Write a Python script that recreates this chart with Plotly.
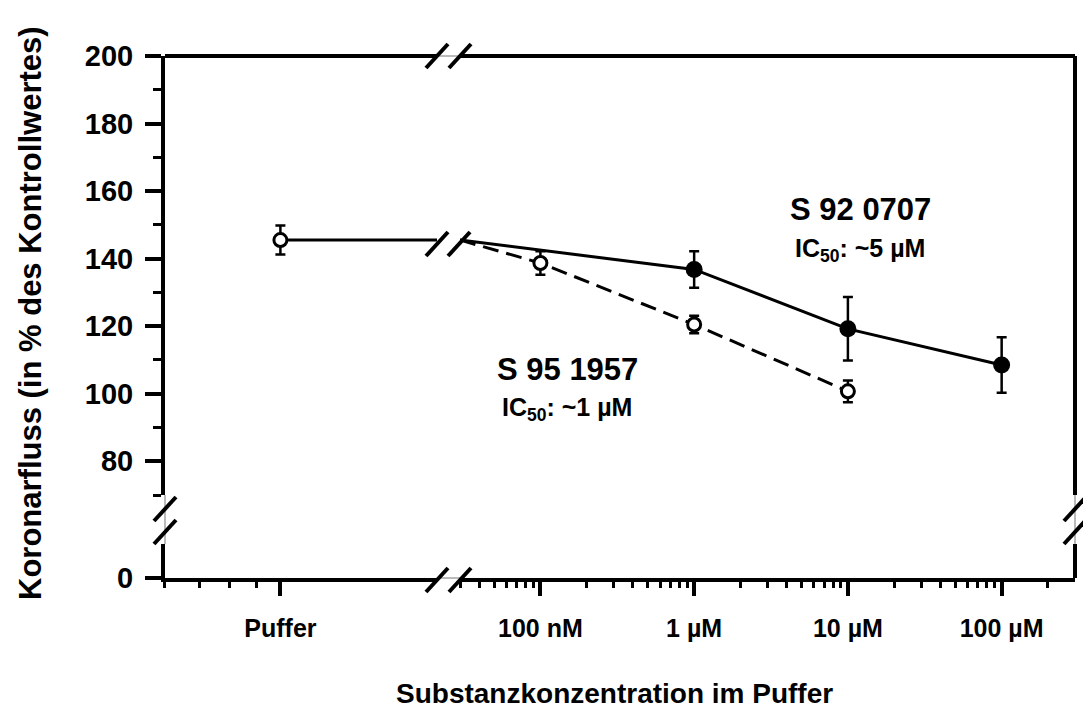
import math
import plotly.graph_objects as go

# --- data -------------------------------------------------------------
puffer_label = "Puffer"
puffer_pos = 1e-9            # position of the buffer control on its own log segment
puffer_mean = 145.5
puffer_sem = 4.3

conc_tickvals = [1e-7, 1e-6, 1e-5, 1e-4]
conc_ticktext = ["100 nM", "1 µM", "10 µM", "100 µM"]

s951957_conc = [1e-7, 1e-6, 1e-5]
s951957_mean = [138.7, 120.5, 100.7]
s951957_sem = [3.5, 2.6, 3.2]

s920707_conc = [1e-6, 1e-5, 1e-4]
s920707_mean = [136.8, 119.2, 108.5]
s920707_sem = [5.4, 9.4, 8.2]

y_tickvals = [80, 100, 120, 140, 160, 180, 200]

# --- geometry (pixels) ------------------------------------------------
FW, FH = 1083, 710
L, R, T, B = 165, 1075, 56, 578
W, H = R - L, B - T
X_BREAK = (437, 460)
Y_BREAK = (495, 544)

def px(x):
    return (x - L) / W

def py(y):
    return (B - y) / H

left_range = [-9.2218, -8.699]        # log10 of 6e-10 .. 2e-9
right_range = [-7.5229, -3.5229]      # log10 of 3e-8 .. 3e-4

FONT = "Liberation Sans"

fig = go.Figure()

err_style = dict(type="data", color="black", thickness=2.5, width=5)
open_marker = dict(symbol="circle", size=13, color="white",
                   line=dict(color="black", width=3))

# connectors from the control value up to the axis break (both series)
left_end = 10 ** left_range[1]
right_start = 10 ** right_range[0]
fig.add_trace(go.Scatter(
    x=[puffer_pos, left_end], y=[puffer_mean, puffer_mean],
    mode="lines", line=dict(color="black", width=3),
    xaxis="x", yaxis="y", showlegend=False, hoverinfo="skip"))

# S 95 1957 (dashed, open circles)
fig.add_trace(go.Scatter(
    x=[right_start] + s951957_conc, y=[puffer_mean] + s951957_mean,
    mode="lines", line=dict(color="black", width=3, dash="16px,8px"),
    xaxis="x2", yaxis="y", showlegend=False, hoverinfo="skip"))
fig.add_trace(go.Scatter(
    x=s951957_conc, y=s951957_mean,
    error_y=dict(array=s951957_sem, **err_style),
    mode="markers", marker=open_marker,
    xaxis="x2", yaxis="y", name="S 95 1957", showlegend=False))

# S 92 0707 (solid, filled circles)
fig.add_trace(go.Scatter(
    x=[right_start] + s920707_conc, y=[puffer_mean] + s920707_mean,
    mode="lines", line=dict(color="black", width=3),
    xaxis="x2", yaxis="y", showlegend=False, hoverinfo="skip"))
fig.add_trace(go.Scatter(
    x=s920707_conc, y=s920707_mean,
    error_y=dict(array=s920707_sem, **err_style),
    mode="markers",
    marker=dict(symbol="circle", size=17, color="black"),
    xaxis="x2", yaxis="y", name="S 92 0707", showlegend=False))

# buffer control point
fig.add_trace(go.Scatter(
    x=[puffer_pos], y=[puffer_mean],
    error_y=dict(array=[puffer_sem], **err_style),
    mode="markers", marker=open_marker,
    xaxis="x", yaxis="y", name=puffer_label, showlegend=False))

# empty trace so the lower strip exists
fig.add_trace(go.Scatter(x=[], y=[], xaxis="x2", yaxis="y2", showlegend=False))

tick_font = dict(family=FONT, size=25, color="black", weight="bold")
ytick_font = dict(family=FONT, size=29, color="black", weight="bold")

common_x = dict(type="log", showgrid=False, zeroline=False, showline=True,
                linecolor="black", linewidth=4, ticks="outside", ticklen=14,
                tickwidth=4, tickcolor="black", tickfont=tick_font,
                ticklabelstandoff=11, anchor="y2", fixedrange=True)
common_y = dict(showgrid=False, zeroline=False, showline=True,
                linecolor="black", linewidth=4, ticks="outside", ticklen=16,
                tickwidth=4, tickcolor="black", tickfont=ytick_font,
                ticklabelstandoff=6, anchor="x", fixedrange=True)

minor_left = [6e-10, 7e-10, 8e-10, 9e-10]
minor_right = [m * 10.0 ** e for e in (-8, -7, -6, -5, -4)
               for m in range(2, 10)
               if right_range[0] <= math.log10(m * 10.0 ** e) <= right_range[1]]

fig.update_layout(
    width=FW, height=FH,
    margin=dict(l=L, r=FW - R, t=T, b=FH - B),
    plot_bgcolor="white", paper_bgcolor="white",
    xaxis=dict(common_x, domain=[0, px(X_BREAK[0])], range=left_range,
               tickvals=[puffer_pos], ticktext=[puffer_label],
               minor=dict(tickvals=minor_left, ticks="outside", ticklen=6,
                          tickwidth=3, tickcolor="black", showgrid=False)),
    xaxis2=dict(common_x, domain=[px(X_BREAK[1]), 1], range=right_range,
                tickvals=conc_tickvals, ticktext=conc_ticktext,
                minor=dict(tickvals=minor_right, ticks="outside", ticklen=6,
                           tickwidth=3, tickcolor="black", showgrid=False)),
    yaxis=dict(common_y, domain=[py(Y_BREAK[0]), 1], range=[70, 200],
               tickvals=y_tickvals,
               minor=dict(dtick=10, ticks="outside", ticklen=8, tickwidth=3,
                          tickcolor="black", showgrid=False)),
    yaxis2=dict(common_y, domain=[0, py(Y_BREAK[1])], range=[0, 10],
                tickvals=[0]),
)

shapes = []

def seg(x0, y0, x1, y1, width=4, color="black"):
    shapes.append(dict(type="line", xref="paper", yref="paper",
                       x0=px(x0), y0=py(y0), x1=px(x1), y1=py(y1),
                       line=dict(color=color, width=width)))

# top and right frame lines with breaks
seg(L, T, X_BREAK[0], T)
seg(X_BREAK[1], T, R, T)
seg(X_BREAK[0], T, X_BREAK[1], T, width=1, color="#777")
seg(R, T, R, Y_BREAK[0])
seg(R, Y_BREAK[1], R, B)
seg(R, Y_BREAK[0], R, Y_BREAK[1], width=1, color="#777")
# thin line through the gaps of the bottom and left axes
seg(X_BREAK[0], B, X_BREAK[1], B, width=1, color="#777")
seg(L, Y_BREAK[0], L, Y_BREAK[1], width=1, color="#777")

def slash(cx, cy, hw=11, hh=12):
    seg(cx - hw, cy + hh, cx + hw, cy - hh)

for cx in (437, 460):
    slash(cx, B + 2)
    slash(cx, T)
for cx in (437, 459):
    slash(cx, 244)
for cy in (509, 532):
    slash(L, cy)
    slash(R, cy)

fig.update_layout(shapes=shapes)

ann_font_big = dict(family=FONT, size=31, color="black", weight="bold")
ann_font_small = dict(family=FONT, size=25, color="black", weight="bold")
xtitle_font = dict(family=FONT, size=28, color="black", weight="bold")
ytitle_font = dict(family=FONT, size=31, color="black", weight="bold")

annotations = [
    dict(text="S 92 0707", x=px(860), y=py(209), font=ann_font_big),
    dict(text="IC<sub>50</sub>: ~5 µM", x=px(860), y=py(250), font=ann_font_small),
    dict(text="S 95 1957", x=px(567), y=py(369), font=ann_font_big),
    dict(text="IC<sub>50</sub>: ~1 µM", x=px(567), y=py(409), font=ann_font_small),
    dict(text="Substanzkonzentration im Puffer", x=px(614), y=py(693),
         font=xtitle_font),
    dict(text="Koronarfluss (in % des Kontrollwertes)", x=px(30), y=py(313),
         textangle=-90, font=ytitle_font),
]
for a in annotations:
    a.update(xref="paper", yref="paper", showarrow=False,
             xanchor="center", yanchor="middle")
fig.update_layout(annotations=annotations)

fig.write_html("out.html")
